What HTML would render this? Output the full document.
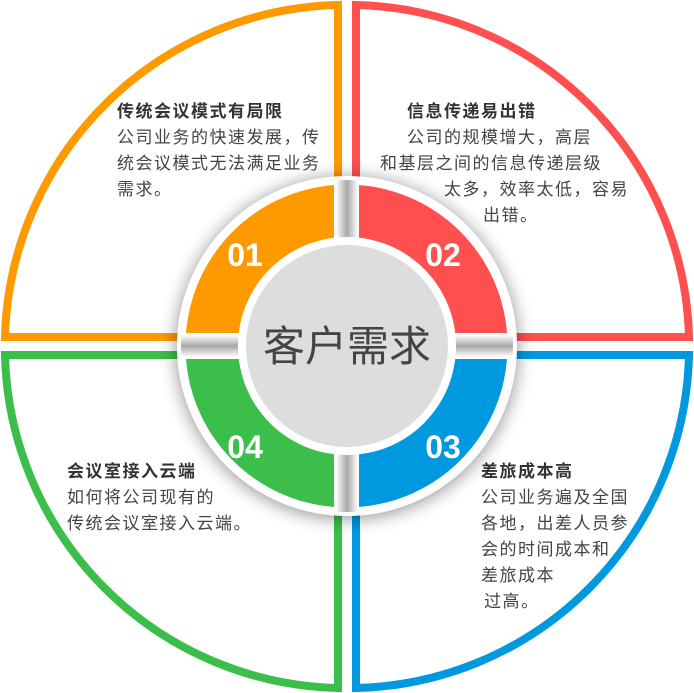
<!DOCTYPE html>
<html><head><meta charset="utf-8"><style>
html,body{margin:0;padding:0;background:#fff;}
body{width:694px;height:693px;overflow:hidden;position:relative;font-family:"Liberation Sans","Noto Sans CJK SC",sans-serif;}
svg{position:absolute;left:0;top:0;}
.t{position:absolute;color:#444;font-size:17px;line-height:26px;white-space:nowrap;letter-spacing:1.5px;}
.t b{font-weight:bold;color:#333;}
</style></head><body>
<svg width="694" height="693" viewBox="0 0 694 693">
<defs>
<filter id="sh" x="-30%" y="-30%" width="160%" height="160%">
<feGaussianBlur in="SourceAlpha" stdDeviation="9"/>
<feOffset dx="0" dy="2"/>
<feComponentTransfer><feFuncA type="linear" slope="0.45"/></feComponentTransfer>
<feMerge><feMergeNode/><feMergeNode in="SourceGraphic"/></feMerge>
</filter>
<linearGradient id="gv" x1="0" x2="1" y1="0" y2="0">
<stop offset="0" stop-color="#fff"/><stop offset="0.5" stop-color="#a8a8a8"/><stop offset="1" stop-color="#fff"/>
</linearGradient>
<linearGradient id="gh" x1="0" x2="0" y1="0" y2="1">
<stop offset="0" stop-color="#fff"/><stop offset="0.5" stop-color="#a8a8a8"/><stop offset="1" stop-color="#fff"/>
</linearGradient>
<clipPath id="cd"><circle cx="347" cy="346" r="166"/></clipPath>
</defs>
<g fill="none" stroke-width="8">
<path d="M338,337 L338,5 A341,341 0 0 0 5,337 Z" stroke="#FF9900"/>
<path d="M356,337 L356,5 A341,341 0 0 1 689,337 Z" stroke="#FF4F4F"/>
<path d="M356,355 L356,688 A341,341 0 0 0 689,355 Z" stroke="#0099E0"/>
<path d="M338,355 L338,688 A341,341 0 0 1 5,355 Z" stroke="#3BBF4A"/>
</g>
<circle cx="347" cy="346" r="170" fill="#fff" filter="url(#sh)"/>
<g clip-path="url(#cd)">
<rect x="336" y="176" width="22" height="340" fill="url(#gv)"/>
<rect x="177" y="335" width="340" height="22" fill="url(#gh)"/>
</g>
<path d="M334,333 L334,185 A161,161 0 0 0 186,333 Z" fill="#FF9900"/>
<path d="M359,333 L359,185 A161,161 0 0 1 507,333 Z" fill="#FF4F4F"/>
<path d="M359,359 L359,507 A161,161 0 0 0 507,359 Z" fill="#0099E0"/>
<path d="M334,359 L334,507 A161,161 0 0 1 186,359 Z" fill="#3BBF4A"/>
<circle cx="347" cy="346" r="109" fill="#fff"/>
<circle cx="347" cy="346" r="101" fill="#dcdddd"/>
<g fill="#fff" font-family="Liberation Sans, sans-serif" font-weight="bold" font-size="32">
<text x="245" y="266" text-anchor="middle">01</text>
<text x="443" y="266" text-anchor="middle">02</text>
<text x="443" y="458" text-anchor="middle">03</text>
<text x="245" y="458" text-anchor="middle">04</text>
</g>
<text x="347" y="361" text-anchor="middle" font-size="42" fill="#444" font-family="Liberation Sans, Noto Sans CJK SC, sans-serif">客户需求</text>
</svg>
<div class="t" style="left:117px;top:99px;"><b>传统会议模式有局限</b><br>公司业务的快速发展，传<br>统会议模式无法满足业务<br>需求。</div>
<div class="t" style="left:407px;top:99px;"><b>信息传递易出错</b><br>公司的规模增大，高层</div>
<div class="t" style="left:380px;top:151px;">和基层之间的信息传递层级</div>
<div class="t" style="left:444px;top:177px;">太多，效率太低，容易</div>
<div class="t" style="left:483px;top:203px;">出错。</div>
<div class="t" style="left:67px;top:459px;"><b>会议室接入云端</b><br>如何将公司现有的<br>传统会议室接入云端。</div>
<div class="t" style="left:481px;top:459px;"><b>差旅成本高</b><br>公司业务遍及全国<br>各地，出差人员参<br>会的时间成本和<br>差旅成本</div>
<div class="t" style="left:484px;top:589px;">过高。</div>
</body></html>
